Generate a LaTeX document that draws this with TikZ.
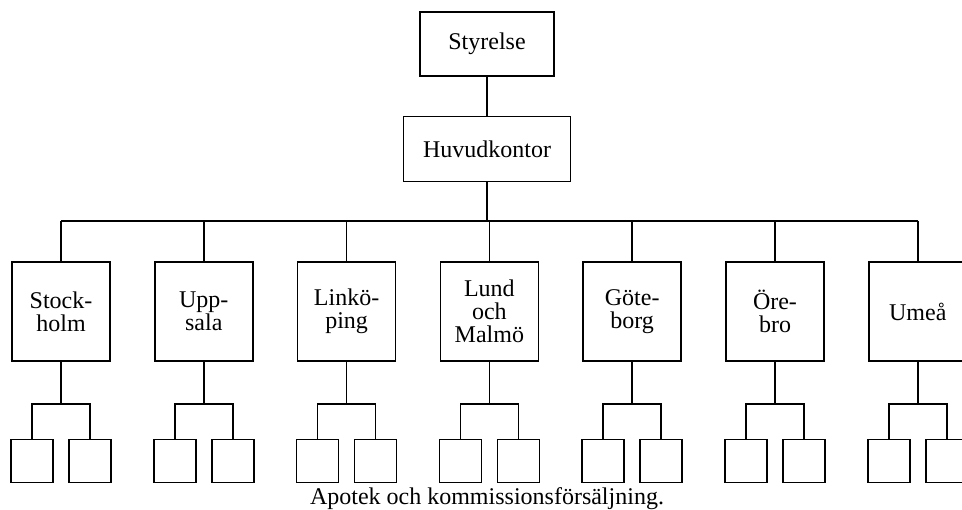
\documentclass[tikz,border=0pt]{standalone}
\usepackage{fontspec}
\setmainfont{Liberation Serif}
\usetikzlibrary{positioning}
\tikzstyle{box} = [rectangle, draw=black, line width=1.6pt, align=center, inner sep=0pt, font=\fontsize{24}{23}\selectfont]
\tikzstyle{city} = [box, minimum width=98pt, minimum height=99pt]
\tikzstyle{leaf} = [box, minimum width=42pt, minimum height=43pt]
\tikzstyle{link} = [line width=1.6pt]

\begin{document}
\begin{tikzpicture}[x=1pt, y=1pt]
    \useasboundingbox (0,0) rectangle (962,-510);
    \clip (0,0) rectangle (962,-510);

    \node (styr) [box, minimum width=134pt, minimum height=64pt] at (487,-44) {Styrelse};
    \node (hk) [box, minimum width=167pt, minimum height=65pt, below=39pt of styr] {Huvudkontor};
    \coordinate (bar) at (0,-221);

    \node (sthlm) [city] at (61,-311.5) {Stock-\\holm};
    \node (upps) [city, right=43.2pt of sthlm] {Upp-\\sala};
    \node (lkpg) [city, right=43.2pt of upps] {Linkö-\\ping};
    \node (lund) [city, right=43.2pt of lkpg] {Lund\\och\\Malmö};
    \node (gbg) [city, right=43.2pt of lund] {Göte-\\borg};
    \node (orebro) [city, right=43.2pt of gbg] {Öre-\\bro};
    \node (umea) [city, right=43.2pt of orebro] {Umeå};

    \node (sthlma) [leaf, below=77pt of sthlm, xshift=-29pt] {};
    \node (sthlmb) [leaf, below=77pt of sthlm, xshift=29pt] {};
    \node (uppsa) [leaf, below=77pt of upps, xshift=-29pt] {};
    \node (uppsb) [leaf, below=77pt of upps, xshift=29pt] {};
    \node (lkpga) [leaf, below=77pt of lkpg, xshift=-29pt] {};
    \node (lkpgb) [leaf, below=77pt of lkpg, xshift=29pt] {};
    \node (lunda) [leaf, below=77pt of lund, xshift=-29pt] {};
    \node (lundb) [leaf, below=77pt of lund, xshift=29pt] {};
    \node (gbga) [leaf, below=77pt of gbg, xshift=-29pt] {};
    \node (gbgb) [leaf, below=77pt of gbg, xshift=29pt] {};
    \node (orebroa) [leaf, below=77pt of orebro, xshift=-29pt] {};
    \node (orebrob) [leaf, below=77pt of orebro, xshift=29pt] {};
    \node (umeaa) [leaf, below=77pt of umea, xshift=-29pt] {};
    \node (umeab) [leaf, below=77pt of umea, xshift=29pt] {};

    \node (cap) [anchor=base, font=\fontsize{24}{24}\selectfont] at (487,-505) {Apotek och kommissionsförsäljning.};

    % top of the tree
    \draw [link] (styr) -- (hk);
    \draw [link] (hk) -- (hk.south |- bar);
    \draw [link] (sthlm.north |- bar) -- (umea.north |- bar);

    % drops to the districts
    \draw [link] (sthlm.north |- bar) -- (sthlm);
    \draw [link] (upps.north |- bar) -- (upps);
    \draw [link] (lkpg.north |- bar) -- (lkpg);
    \draw [link] (lund.north |- bar) -- (lund);
    \draw [link] (gbg.north |- bar) -- (gbg);
    \draw [link] (orebro.north |- bar) -- (orebro);
    \draw [link] (umea.north |- bar) -- (umea);

    % pharmacies below each district
    \draw [link] (sthlm.south) -- ++(0,-42); \draw [link] (sthlma.north) -- ++(0,35) -| (sthlmb.north);
    \draw [link] (upps.south) -- ++(0,-42); \draw [link] (uppsa.north) -- ++(0,35) -| (uppsb.north);
    \draw [link] (lkpg.south) -- ++(0,-42); \draw [link] (lkpga.north) -- ++(0,35) -| (lkpgb.north);
    \draw [link] (lund.south) -- ++(0,-42); \draw [link] (lunda.north) -- ++(0,35) -| (lundb.north);
    \draw [link] (gbg.south) -- ++(0,-42); \draw [link] (gbga.north) -- ++(0,35) -| (gbgb.north);
    \draw [link] (orebro.south) -- ++(0,-42); \draw [link] (orebroa.north) -- ++(0,35) -| (orebrob.north);
    \draw [link] (umea.south) -- ++(0,-42); \draw [link] (umeaa.north) -- ++(0,35) -| (umeab.north);
\end{tikzpicture}
\end{document}
